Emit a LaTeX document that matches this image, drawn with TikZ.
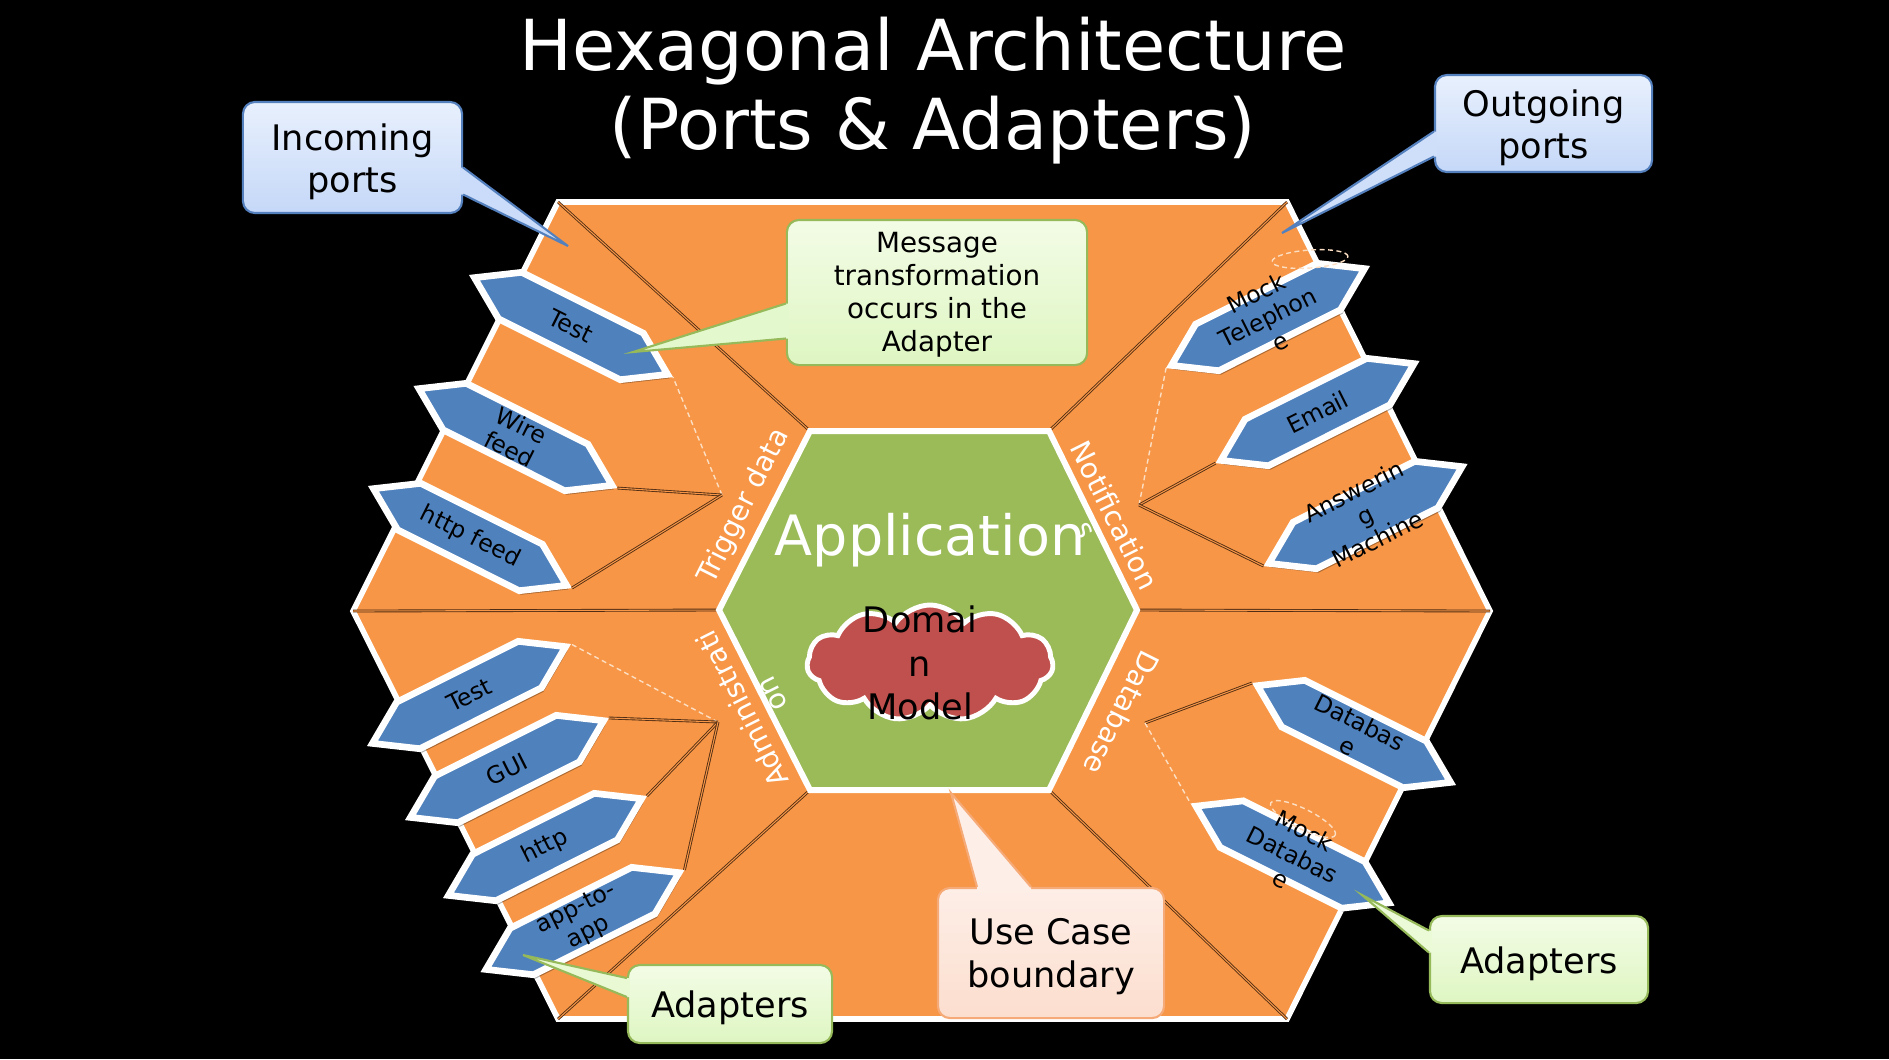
\documentclass[tikz,border=0pt]{standalone}
\usepackage{fontspec}
\setmainfont{DejaVu Sans}
\usetikzlibrary{calc}
\usetikzlibrary{shapes.symbols}

\definecolor{hexorange}{RGB}{247,150,70}
\definecolor{hexgreen}{RGB}{155,187,89}
\definecolor{domainred}{RGB}{192,80,77}
\definecolor{adapterblue}{RGB}{79,129,189}
\definecolor{linkdark}{RGB}{80,45,20}
\definecolor{mockline}{RGB}{252,222,195}
\definecolor{bluetop}{RGB}{232,240,253}
\definecolor{bluebot}{RGB}{197,216,248}
\definecolor{blueedge}{RGB}{85,128,190}
\definecolor{greentop}{RGB}{243,252,230}
\definecolor{greenbot}{RGB}{222,246,194}
\definecolor{greenedge}{RGB}{150,185,90}
\definecolor{pinktop}{RGB}{253,238,231}
\definecolor{pinkbot}{RGB}{252,222,206}
\definecolor{pinkedge}{RGB}{245,170,120}

\tikzset{
  link/.style={draw=linkdark, line width=.25pt, double=hexorange, double distance=.3pt},
  mocklink/.style={draw=mockline, line width=.4pt, dash pattern=on 1.4pt off 1pt},
  adapter/.style={draw=white, line width=1.9pt, fill=adapterblue},
  adaptertext/.style={font=\fontsize{6.7}{7.6}\selectfont, align=center, inner sep=0pt},
  sidelabel/.style={text=white, font=\fontsize{8}{9.1}\selectfont, align=center, inner sep=0pt},
  note/.style={rounded corners=3.4pt, line width=.6pt, inner sep=0pt},
  notetext/.style={align=center, inner sep=0pt, font=\fontsize{10}{12}\selectfont},
  bluenote/.style={note, draw=blueedge, top color=bluetop, bottom color=bluebot},
  greennote/.style={note, draw=greenedge, top color=greentop, bottom color=greenbot},
  pinknote/.style={note, draw=pinkedge, top color=pinktop, bottom color=pinkbot}
}

\begin{document}
\begin{tikzpicture}[x=0.01cm, y=-0.01cm]

\useasboundingbox (0,0) rectangle (1889,1059);
\fill[black] (0,0) rectangle (1889,1059);

% corners of the two hexagons
\coordinate (o-nw) at (558,202);
\coordinate (o-ne) at (1287,202);
\coordinate (o-e) at (1490,611);
\coordinate (o-se) at (1287,1019);
\coordinate (o-sw) at (558,1019);
\coordinate (o-w) at (353,611);
\coordinate (i-nw) at (810,431);
\coordinate (i-ne) at (1049,431);
\coordinate (i-e) at (1137,610);
\coordinate (i-se) at (1049,790);
\coordinate (i-sw) at (810,790);
\coordinate (i-w) at (719,610);

% where the adapters of one port meet
\coordinate (trighub) at (722,495);
\coordinate (notifhub) at (1139,505);
\coordinate (admhub) at (718,722);
\coordinate (datahub) at (1145,723);

\node[text=white, font=\fontsize{20}{22.5}\selectfont, align=center, anchor=north, inner sep=0pt]
  (title) at (933,16) {Hexagonal Architecture\\(Ports \& Adapters)};

% adapter ring
\draw[draw=white, line width=1.6pt, fill=hexorange]
  (o-nw) -- (o-ne) -- (o-e) -- (o-se) -- (o-sw) -- (o-w) -- cycle;
\foreach \a in {nw,ne,e,se,sw,w}
  \draw[link] (o-\a) -- (i-\a);

% application
\draw[draw=white, line width=1.7pt, fill=hexgreen]
  (i-nw) -- (i-ne) -- (i-e) -- (i-se) -- (i-sw) -- (i-w) -- cycle;

\node[sidelabel, rotate=63.4] (trigger) at (744,506) {Trigger data};
\node[sidelabel, rotate=-63.4] (notify) at (1100.5,522.5) {Notification\\s};
\node[sidelabel, rotate=116.6] (admin) at (756.5,702) {Administrati\\on};
\node[sidelabel, rotate=-116.6] (dbport) at (1122,713) {Database};

\node[text=white, font=\fontsize{15.8}{18}\selectfont, anchor=base, inner sep=0pt]
  (app) at (930,555) {Application};

\node[cloud, cloud puffs=11, cloud puff arc=110, aspect=2.1, draw=white, line width=1.4pt,
  fill=domainred, minimum width=2.46cm, minimum height=1.16cm] (domain) at (930,663) {};
\node[font=\fontsize{10}{12.3}\selectfont, align=center, inner sep=0pt]
  (domaintext) at (920,663) {Domai\\n\\Model};

% adapters
\foreach \cx/\cy/\ang/\nm/\txt in {
    571/326/-26.6/trigtest/Test,
    515.5/437/-26.6/wirefeed/{Wire\\feed},
    470/537/-26.6/httpfeed/http feed,
    1268/317/26.6/mocktel/{Mock\\Telephon\\e},
    1317.5/412/26.6/email/Email,
    1365.5/515/26.6/answer/{Answerin\\g\\Machine},
    469/695/26.6/admtest/Test,
    507/769/26.6/gui/GUI,
    545/847/26.6/http/http,
    582.5/921/26.6/apptoapp/{app-to-\\app},
    1354/734/-26.6/database/{Databas\\e},
    1292.5/854.5/-26.6/mockdb/{Mock\\Databas\\e}}
{
  \begin{scope}[shift={(\cx+2,\cy+4)}, rotate=\ang]
    \fill[black, opacity=.3] (-108,0) -- (-68,-26) -- (68,-26) -- (108,0) -- (68,26) -- (-68,26) -- cycle;
  \end{scope}
  \begin{scope}[shift={(\cx,\cy)}, rotate=\ang]
    \draw[adapter] (-108,0) -- (-68,-26) -- (68,-26) -- (108,0) -- (68,26) -- (-68,26) -- cycle;
    \node[adaptertext, rotate=\ang] (\nm) at (0,0) {\txt};
    \coordinate (\nm-w) at (-114,0);
    \coordinate (\nm-e) at (114,0);
  \end{scope}
}

% adapters to their port
\draw[mocklink] (trighub) -- (trigtest-e);
\foreach \a in {wirefeed,httpfeed}
  \draw[link] (trighub) -- (\a-e);
\draw[mocklink] (notifhub) -- (mocktel-w);
\foreach \a in {email,answer}
  \draw[link] (notifhub) -- (\a-w);
\draw[mocklink] (admhub) -- (admtest-e);
\foreach \a in {gui,http,apptoapp}
  \draw[link] (admhub) -- (\a-e);
\draw[link] (datahub) -- (database-w);
\draw[mocklink] (datahub) -- (mockdb-w);

\draw[mocklink, rotate around={4:(1310,259)}] (1310,259) ellipse [x radius=.38cm, y radius=.09cm];
\draw[mocklink, rotate around={-26.6:(1303,819)}] (1303,819) ellipse [x radius=.36cm, y radius=.1cm];

% callouts
\coordinate (intip) at (568,246);
\coordinate (outtip) at (1282,233);
\coordinate (msgtip) at (633,352);
\coordinate (uctip) at (951,793);
\coordinate (adltip) at (523,955);
\coordinate (adrtip) at (1362,895);

\node[bluenote, minimum width=2.19cm, minimum height=1.11cm] (inport) at (352.5,157.5) {};
\fill[bluebot!85!bluetop] ($(inport.east)+(-3,10)$) -- ($(inport.east)+(0,10)$) -- (intip)
  -- ($(inport.east)+(0,37)$) -- ($(inport.east)+(-3,37)$) -- cycle;
\draw[blueedge, line width=.6pt] ($(inport.east)+(0,10)$) -- (intip) -- ($(inport.east)+(0,37)$);
\node[notetext] (inporttext) at ($(inport)+(0,4)$) {Incoming\\ports};

\node[bluenote, minimum width=2.17cm, minimum height=.97cm] (outport) at (1543.5,123.5) {};
\fill[bluebot!70!bluetop] ($(outport.west)+(3,8)$) -- ($(outport.west)+(0,8)$) -- (outtip)
  -- ($(outport.west)+(0,33)$) -- ($(outport.west)+(3,33)$) -- cycle;
\draw[blueedge, line width=.6pt] ($(outport.west)+(0,8)$) -- (outtip) -- ($(outport.west)+(0,33)$);
\node[notetext] (outporttext) at ($(outport)+(0,4)$) {Outgoing\\ports};

\node[greennote, minimum width=3cm, minimum height=1.45cm] (msgnote) at (937,292.5) {};
\fill[greenbot!70!greentop] ($(msgnote.west)+(3,11)$) -- ($(msgnote.west)+(0,11)$) -- (msgtip)
  -- ($(msgnote.west)+(0,46)$) -- ($(msgnote.west)+(3,46)$) -- cycle;
\draw[greenedge, line width=.6pt] ($(msgnote.west)+(0,11)$) -- (msgtip) -- ($(msgnote.west)+(0,46)$);
\node[notetext, font=\fontsize{7.9}{9.4}\selectfont] (msgtext) at ($(msgnote)+(0,2.5)$)
  {Message\\transformation\\occurs in the\\Adapter};

\node[pinknote, minimum width=2.26cm, minimum height=1.3cm] (usecase) at (1051,953) {};
\fill[pinktop] ($(usecase.north)+(-74,3)$) -- ($(usecase.north)+(-74,0)$) -- (uctip)
  -- ($(usecase.north)+(-20,0)$) -- ($(usecase.north)+(-20,3)$) -- cycle;
\draw[pinkedge, line width=.6pt] ($(usecase.north)+(-74,0)$) -- (uctip) -- ($(usecase.north)+(-20,0)$);
\node[notetext] (usecasetext) at ($(usecase)+(0,3.5)$) {Use Case\\boundary};

\node[greennote, minimum width=2.04cm, minimum height=.78cm] (adleft) at (730,1004) {};
\fill[greenbot!50!greentop] ($(adleft.west)+(3,-26)$) -- ($(adleft.west)+(0,-26)$) -- (adltip)
  -- ($(adleft.west)+(0,-7)$) -- ($(adleft.west)+(3,-7)$) -- cycle;
\draw[greenedge, line width=.6pt] ($(adleft.west)+(0,-26)$) -- (adltip) -- ($(adleft.west)+(0,-7)$);
\node[notetext] (adlefttext) at ($(adleft)+(0,4)$) {Adapters};

\node[greennote, minimum width=2.18cm, minimum height=.87cm] (adright) at (1539,959.5) {};
\fill[greenbot!40!greentop] ($(adright.west)+(3,-29)$) -- ($(adright.west)+(0,-29)$) -- (adrtip)
  -- ($(adright.west)+(0,-7)$) -- ($(adright.west)+(3,-7)$) -- cycle;
\draw[greenedge, line width=.6pt] ($(adright.west)+(0,-29)$) -- (adrtip) -- ($(adright.west)+(0,-7)$);
\node[notetext] (adrighttext) at ($(adright)+(0,4)$) {Adapters};

\end{tikzpicture}
\end{document}
